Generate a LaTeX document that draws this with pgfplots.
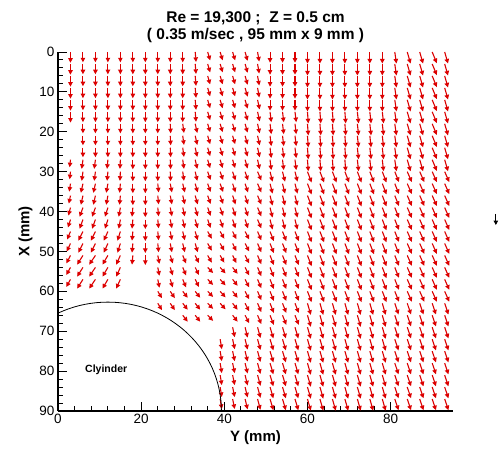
\documentclass[border=0pt]{standalone}
\usepackage{fontspec}
\setmainfont{Liberation Sans}
\usepackage{pgfplots}
\pgfplotsset{compat=1.18}
\usetikzlibrary{arrows.meta}
\definecolor{vec}{RGB}{220,0,0}
\begin{document}
\begin{tikzpicture}
\path[use as bounding box] (-58pt,-37pt) rectangle (443pt,411pt);
\begin{axis}[
 scale only axis, width=395pt, height=359pt,
 xmin=0, xmax=95, ymin=0, ymax=90, y dir=reverse,
 axis x line=bottom, axis y line=left,
 axis line style={line width=1.6pt,-},
 tick align=inside,
 xtick={0,20,40,60,80}, ytick={0,10,...,90},
 minor x tick num=4, minor y tick num=4,
 major tick length=9pt, minor tick length=5pt,
 every tick/.style={black, line width=1pt},
 tick label style={font=\fontsize{13.5}{14}\selectfont},
 /pgf/number format/assume math mode=true,
 xlabel={Y (mm)}, ylabel={X (mm)},
 label style={font=\bfseries\fontsize{15}{16}\selectfont},
 title={Re = 19,300 ;\ \ Z = 0.5 cm\\( 0.35 m/sec , 95 mm x 9 mm )},
 title style={font=\bfseries\fontsize{15.5}{17}\selectfont, align=center},
 clip=false,
]
\addplot[vec, line width=1.1pt, quiver={u=\thisrow{u}, v=\thisrow{v}}, -{Triangle[length=4.6pt,width=4.4pt]}] table[x=Y, y=X] {
Y X u v
3 0 0 2.7
3 3 0 2.7
3 6 0 2.7
3 9 0 2.7
3 12 0 2.7
3 15 0 2.7
3 27 -0.2 1.9
3 30 -0.2 1.9
3 33 -0.3 2.0
3 36 -0.4 2.0
3 39 -0.5 2.0
3 42 -0.6 2.0
3 45 -0.8 2.0
3 48 -0.9 2.0
3 51 -1.0 2.0
3 54 -1.0 1.9
3 57 -1.0 1.9
6 0 0 2.6
6 3 0 2.6
6 6 0 2.6
6 9 0 2.6
6 12 0 2.6
6 15 0 2.6
6 18 0 2.4
6 21 0 2.4
6 24 0 2.4
6 27 -0.3 2.3
6 30 -0.3 2.3
6 33 -0.5 2.3
6 36 -0.5 2.3
6 39 -0.8 2.3
6 42 -0.8 2.3
6 45 -1.1 2.3
6 48 -1.1 2.3
6 51 -1.4 2.3
6 54 -1.4 2.3
6 57 -1.4 2.3
9 0 0 2.6
9 3 0 2.6
9 6 0 2.6
9 9 0 2.6
9 12 0 2.6
9 15 0 2.6
9 18 0 2.4
9 21 0 2.4
9 24 0 2.4
9 27 -0.3 2.3
9 30 -0.3 2.3
9 33 -0.5 2.3
9 36 -0.5 2.3
9 39 -0.8 2.3
9 42 -0.8 2.3
9 45 -1.1 2.3
9 48 -1.1 2.3
9 51 -1.5 2.3
9 54 -1.5 2.3
9 57 -1.5 2.3
12 0 0 2.6
12 3 0 2.6
12 6 0 2.6
12 9 0 2.6
12 12 0 2.6
12 15 0 2.6
12 18 0 2.4
12 21 0 2.4
12 24 0 2.4
12 27 -0.2 2.3
12 30 -0.2 2.3
12 33 -0.4 2.3
12 36 -0.4 2.3
12 39 -0.7 2.3
12 42 -0.7 2.3
12 45 -1.0 2.3
12 48 -1.0 2.3
12 51 -1.3 2.3
12 54 -1.3 2.3
12 57 -1.3 2.3
15 0 0 2.6
15 3 0 2.6
15 6 0 2.6
15 9 0 2.6
15 12 0 2.6
15 15 0 2.6
15 18 0 2.4
15 21 0 2.4
15 24 0 2.4
15 27 -0.1 2.3
15 30 -0.1 2.3
15 33 -0.2 2.3
15 36 -0.2 2.3
15 39 -0.4 2.3
15 42 -0.4 2.3
15 45 -0.7 2.3
15 48 -0.7 2.3
15 51 -1.0 2.3
15 54 -1.0 2.3
15 57 -1.0 2.3
18 0 0 2.6
18 3 0 2.6
18 6 0 2.6
18 9 0 2.6
18 12 0 2.6
18 15 0 2.6
18 18 0 2.4
18 21 0 2.4
18 24 0 2.4
18 27 0 2.4
18 30 0 2.4
18 33 0 2.4
18 36 0 2.4
18 39 -0.2 2.3
18 42 -0.2 2.3
18 45 -0.2 2.3
18 48 -0.2 2.3
18 51 -0.2 2.3
21 0 0 2.6
21 3 0 2.6
21 6 0 2.6
21 9 0 2.6
21 12 0 2.6
21 15 0 2.6
21 18 0 2.4
21 21 0 2.4
21 24 0 2.4
21 27 0 2.4
21 30 0 2.4
21 33 0 2.4
21 36 0 2.4
21 39 0 2.4
21 42 0 2.4
21 45 0 2.4
21 48 0 2.4
21 51 0 2.4
24 0 0 2.6
24 3 0 2.6
24 6 0 2.6
24 9 0 2.6
24 12 0 2.6
24 15 0 2.6
24 18 0 2.4
24 21 0 2.4
24 24 0 2.4
24 27 0 2.4
24 30 0 2.4
24 33 0.2 2.2
24 36 0.2 2.2
24 39 0.2 2.2
24 42 0.2 2.2
24 45 0.2 2.2
24 48 0.2 2.2
24 51 0.4 2.1
24 54 0.4 2.1
24 57 0.4 2.1
24 60 1.0 1.7
24 63 1.0 1.7
27 0 0 2.6
27 3 0 2.6
27 6 0 2.6
27 9 0 2.6
27 12 0 2.6
27 15 0 2.6
27 18 0.1 2.4
27 21 0.1 2.4
27 24 0.1 2.4
27 27 0.1 2.4
27 30 0.1 2.4
27 33 0.4 2.2
27 36 0.4 2.2
27 39 0.4 2.2
27 42 0.4 2.2
27 45 0.4 2.2
27 48 0.4 2.2
27 51 0.6 2.0
27 54 0.6 2.0
27 57 0.6 2.0
27 60 1.1 1.7
27 63 1.1 1.7
30 0 0 2.6
30 3 0 2.6
30 6 0 2.6
30 9 0 2.6
30 12 0 2.6
30 15 0 2.6
30 18 0.3 2.3
30 21 0.3 2.3
30 24 0.3 2.3
30 27 0.3 2.3
30 30 0.3 2.3
30 33 0.5 2.2
30 36 0.5 2.2
30 39 0.5 2.2
30 42 0.5 2.2
30 45 0.5 2.2
30 48 0.5 2.2
30 51 0.8 2.0
30 54 0.8 2.0
30 57 0.8 2.0
30 60 1.2 1.6
30 63 1.2 1.6
30 66 1.2 1.6
33 0 0.2 2.5
33 3 0.2 2.5
33 6 0.2 2.5
33 9 0.2 2.5
33 12 0.2 2.5
33 15 0.2 2.5
33 18 0.5 2.3
33 21 0.5 2.3
33 24 0.5 2.3
33 27 0.5 2.3
33 30 0.5 2.3
33 33 0.6 2.2
33 36 0.6 2.2
33 39 0.6 2.2
33 42 0.6 2.2
33 45 0.6 2.2
33 48 0.6 2.2
33 51 0.9 1.9
33 54 0.9 1.9
33 57 0.9 1.9
33 60 1.2 1.6
33 63 1.2 1.6
33 66 1.2 1.6
36 0 0.6 2.1
36 3 0.6 2.1
36 6 0.6 2.1
36 9 0.6 2.1
36 12 0.6 2.1
36 15 0.6 2.1
36 18 0.6 2.1
36 21 0.6 2.1
36 24 0.6 2.1
36 27 0.6 2.1
36 30 0.7 2.1
36 33 0.7 2.1
36 36 0.7 2.1
36 39 0.7 2.1
36 42 0.7 2.1
36 45 1.0 1.8
36 48 1.0 1.8
36 51 1.0 1.8
36 54 1.3 1.4
36 57 1.3 1.4
36 60 1.3 1.4
36 63 1.3 1.4
36 66 1.3 1.4
39 0 0.6 2.1
39 3 0.6 2.1
39 6 0.6 2.1
39 9 0.6 2.1
39 12 0.6 2.1
39 15 0.6 2.1
39 18 0.6 2.1
39 21 0.6 2.1
39 24 0.6 2.1
39 27 0.6 2.1
39 30 0.7 2.1
39 33 0.7 2.1
39 36 0.7 2.1
39 39 0.7 2.1
39 42 0.7 2.1
39 45 1.0 1.8
39 48 1.0 1.8
39 51 1.0 1.8
39 54 1.3 1.5
39 57 1.3 1.5
39 60 1.3 1.5
39 63 1.3 1.5
39 72 0.4 2.5
39 75 0.4 2.5
39 78 0.4 2.5
39 81 0.4 2.5
39 84 0.4 2.5
39 87 0.4 2.5
42 0 0.6 2.1
42 3 0.6 2.1
42 6 0.6 2.1
42 9 0.6 2.1
42 12 0.6 2.1
42 15 0.6 2.1
42 18 0.6 2.1
42 21 0.6 2.1
42 24 0.6 2.1
42 27 0.6 2.1
42 30 0.7 2.2
42 33 0.7 2.2
42 36 0.7 2.2
42 39 0.7 2.2
42 42 0.7 2.2
42 45 0.9 1.9
42 48 0.9 1.9
42 51 0.9 1.9
42 54 1.2 1.6
42 57 1.2 1.6
42 60 1.2 1.6
42 63 1.2 1.6
42 66 1.2 1.6
42 69 0.5 2.5
42 72 0.5 2.5
42 75 0.5 2.5
42 78 0.5 2.5
42 81 0.5 2.5
42 84 0.5 2.5
42 87 0.5 2.5
45 0 0.6 2.2
45 3 0.6 2.2
45 6 0.6 2.2
45 9 0.6 2.2
45 12 0.6 2.2
45 15 0.6 2.2
45 18 0.6 2.2
45 21 0.6 2.2
45 24 0.6 2.2
45 27 0.6 2.2
45 30 0.7 2.2
45 33 0.7 2.2
45 36 0.7 2.2
45 39 0.7 2.2
45 42 0.7 2.2
45 45 1.0 2.0
45 48 1.0 2.0
45 51 1.0 2.0
45 54 1.0 2.0
45 57 1.0 2.0
45 60 1.0 2.0
45 63 1.0 2.0
45 66 1.0 2.0
45 69 0.6 2.6
45 72 0.6 2.6
45 75 0.6 2.6
45 78 0.6 2.6
45 81 0.6 2.6
45 84 0.6 2.6
45 87 0.6 2.6
48 0 0.4 2.4
48 3 0.4 2.4
48 6 0.4 2.4
48 9 0.4 2.4
48 12 0.5 2.4
48 15 0.5 2.4
48 18 0.5 2.4
48 21 0.5 2.4
48 24 0.5 2.4
48 27 0.5 2.4
48 30 0.9 2.2
48 33 0.9 2.2
48 36 0.9 2.2
48 39 0.9 2.2
48 42 0.9 2.2
48 45 0.9 2.2
48 48 0.9 2.2
48 51 0.9 2.2
48 54 0.9 2.2
48 57 0.9 2.2
48 60 0.9 2.2
48 63 0.9 2.2
48 66 0.9 2.2
48 69 0.7 2.7
48 72 0.7 2.7
48 75 0.7 2.7
48 78 0.7 2.7
48 81 0.7 2.7
48 84 0.7 2.7
48 87 0.7 2.7
51 0 0 2.7
51 3 0 2.7
51 6 0 2.7
51 9 0 2.7
51 12 0 2.7
51 15 0.3 2.6
51 18 0.3 2.6
51 21 0.3 2.6
51 24 0.3 2.6
51 27 0.3 2.6
51 30 0.6 2.5
51 33 0.6 2.5
51 36 0.6 2.5
51 39 0.6 2.5
51 42 0.6 2.5
51 45 0.9 2.4
51 48 0.9 2.4
51 51 0.9 2.4
51 54 0.9 2.4
51 57 0.9 2.4
51 60 0.9 2.4
51 63 0.9 2.4
51 66 0.9 2.4
51 69 0.8 2.8
51 72 0.8 2.8
51 75 0.8 2.8
51 78 0.8 2.8
51 81 0.8 2.8
51 84 0.8 2.8
51 87 0.8 2.8
54 0 0 2.7
54 3 0 2.7
54 6 0 2.7
54 9 0 2.7
54 12 0 2.7
54 15 0.3 2.6
54 18 0.3 2.6
54 21 0.3 2.6
54 24 0.3 2.6
54 27 0.3 2.6
54 30 0.6 2.5
54 33 0.6 2.5
54 36 0.6 2.5
54 39 0.6 2.5
54 42 0.6 2.5
54 45 0.9 2.4
54 48 0.9 2.4
54 51 0.9 2.4
54 54 0.9 2.4
54 57 0.9 2.4
54 60 0.9 2.4
54 63 0.9 2.4
54 66 0.9 2.4
54 69 0.8 2.8
54 72 0.8 2.8
54 75 0.8 2.8
54 78 0.8 2.8
54 81 0.8 2.8
54 84 0.8 2.8
54 87 0.8 2.8
57 0 0 2.7
57 3 0 2.7
57 6 0 2.7
57 9 0 2.7
57 12 0 2.7
57 15 0.3 2.6
57 18 0.3 2.6
57 21 0.3 2.6
57 24 0.3 2.6
57 27 0.3 2.6
57 30 0.6 2.5
57 33 0.6 2.5
57 36 0.6 2.5
57 39 0.6 2.5
57 42 0.6 2.5
57 45 0.9 2.4
57 48 0.9 2.4
57 51 0.9 2.4
57 54 0.9 2.4
57 57 0.9 2.4
57 60 0.9 2.4
57 63 0.9 2.4
57 66 0.9 2.4
57 69 0.8 2.8
57 72 0.8 2.8
57 75 0.8 2.8
57 78 0.8 2.8
57 81 0.8 2.8
57 84 0.8 2.8
57 87 0.8 2.8
60 0 0 2.9
60 3 0 2.9
60 6 0 2.9
60 9 0 2.9
60 12 0 2.9
60 15 0.2 2.9
60 18 0.2 2.9
60 21 0.2 2.9
60 24 0.2 2.9
60 27 0.2 2.9
60 30 1.0 2.7
60 33 1.0 2.7
60 36 1.0 2.7
60 39 1.0 2.7
60 42 1.0 2.7
60 45 1.0 2.7
60 48 1.0 2.7
60 51 1.0 2.7
60 54 1.0 2.7
60 57 1.0 2.7
60 60 1.0 2.7
60 63 0.8 2.9
60 66 0.8 2.9
60 69 0.8 2.9
60 72 0.8 2.9
60 75 0.8 2.9
60 78 0.8 2.9
60 81 0.8 2.9
60 84 0.8 2.9
60 87 0.8 2.9
63 0 0 2.9
63 3 0 2.9
63 6 0 2.9
63 9 0 2.9
63 12 0 2.9
63 15 0.2 2.9
63 18 0.2 2.9
63 21 0.2 2.9
63 24 0.2 2.9
63 27 0.2 2.9
63 30 1.0 2.7
63 33 1.0 2.7
63 36 1.0 2.7
63 39 1.0 2.7
63 42 1.0 2.7
63 45 1.0 2.7
63 48 1.0 2.7
63 51 1.0 2.7
63 54 1.0 2.7
63 57 1.0 2.7
63 60 1.0 2.7
63 63 0.8 2.9
63 66 0.8 2.9
63 69 0.8 2.9
63 72 0.8 2.9
63 75 0.8 2.9
63 78 0.8 2.9
63 81 0.8 2.9
63 84 0.8 2.9
63 87 0.8 2.9
66 0 0 2.9
66 3 0 2.9
66 6 0 2.9
66 9 0 2.9
66 12 0 2.9
66 15 0.2 2.9
66 18 0.2 2.9
66 21 0.2 2.9
66 24 0.2 2.9
66 27 0.2 2.9
66 30 1.0 2.7
66 33 1.0 2.7
66 36 1.0 2.7
66 39 1.0 2.7
66 42 1.0 2.7
66 45 1.0 2.7
66 48 1.0 2.7
66 51 1.0 2.7
66 54 1.0 2.7
66 57 1.0 2.7
66 60 1.0 2.7
66 63 0.8 2.9
66 66 0.8 2.9
66 69 0.8 2.9
66 72 0.8 2.9
66 75 0.8 2.9
66 78 0.8 2.9
66 81 0.8 2.9
66 84 0.8 2.9
66 87 0.8 2.9
69 0 0 2.9
69 3 0 2.9
69 6 0 2.9
69 9 0 2.9
69 12 0 2.9
69 15 0.2 2.9
69 18 0.2 2.9
69 21 0.2 2.9
69 24 0.2 2.9
69 27 0.2 2.9
69 30 1.0 2.7
69 33 1.0 2.7
69 36 1.0 2.7
69 39 1.0 2.7
69 42 1.0 2.7
69 45 1.0 2.7
69 48 1.0 2.7
69 51 1.0 2.7
69 54 1.0 2.7
69 57 1.0 2.7
69 60 1.0 2.7
69 63 0.8 2.9
69 66 0.8 2.9
69 69 0.8 2.9
69 72 0.8 2.9
69 75 0.8 2.9
69 78 0.8 2.9
69 81 0.8 2.9
69 84 0.8 2.9
69 87 0.8 2.9
72 0 0 2.9
72 3 0 2.9
72 6 0 2.9
72 9 0 2.9
72 12 0 2.9
72 15 0.3 2.9
72 18 0.3 2.9
72 21 0.3 2.9
72 24 0.3 2.9
72 27 0.3 2.9
72 30 1.0 2.7
72 33 1.0 2.7
72 36 1.0 2.7
72 39 1.0 2.7
72 42 1.0 2.7
72 45 1.0 2.7
72 48 1.0 2.7
72 51 1.0 2.7
72 54 1.0 2.7
72 57 1.0 2.7
72 60 1.0 2.7
72 63 0.8 2.9
72 66 0.8 2.9
72 69 0.8 2.9
72 72 0.8 2.9
72 75 0.8 2.9
72 78 0.8 2.9
72 81 0.8 2.9
72 84 0.8 2.9
72 87 0.8 2.9
75 0 0 2.9
75 3 0 2.9
75 6 0 2.9
75 9 0 2.9
75 12 0 2.9
75 15 0.3 2.9
75 18 0.3 2.9
75 21 0.3 2.9
75 24 0.3 2.9
75 27 0.3 2.9
75 30 1.0 2.7
75 33 1.0 2.7
75 36 1.0 2.7
75 39 1.0 2.7
75 42 1.0 2.7
75 45 1.0 2.7
75 48 1.0 2.7
75 51 1.0 2.7
75 54 1.0 2.7
75 57 1.0 2.7
75 60 1.0 2.7
75 63 0.8 2.9
75 66 0.8 2.9
75 69 0.8 2.9
75 72 0.8 2.9
75 75 0.8 2.9
75 78 0.8 2.9
75 81 0.8 2.9
75 84 0.8 2.9
75 87 0.8 2.9
78 0 0 2.9
78 3 0 2.9
78 6 0 2.9
78 9 0 2.9
78 12 0 2.9
78 15 0.3 2.9
78 18 0.3 2.9
78 21 0.3 2.9
78 24 0.3 2.9
78 27 0.3 2.9
78 30 1.0 2.7
78 33 1.0 2.7
78 36 1.0 2.7
78 39 1.0 2.7
78 42 1.0 2.7
78 45 1.0 2.7
78 48 1.0 2.7
78 51 1.0 2.7
78 54 1.0 2.7
78 57 1.0 2.7
78 60 1.0 2.7
78 63 0.8 2.9
78 66 0.8 2.9
78 69 0.8 2.9
78 72 0.8 2.9
78 75 0.8 2.9
78 78 0.8 2.9
78 81 0.8 2.9
78 84 0.8 2.9
78 87 0.8 2.9
81 0 0.4 2.9
81 3 0.4 2.9
81 6 0.4 2.9
81 9 0.4 2.9
81 12 0.4 2.9
81 15 0.4 2.9
81 18 0.4 2.9
81 21 0.4 2.9
81 24 0.4 2.9
81 27 0.4 2.9
81 30 1.0 2.6
81 33 1.0 2.6
81 36 1.0 2.6
81 39 1.0 2.6
81 42 1.0 2.6
81 45 1.0 2.6
81 48 1.0 2.6
81 51 1.0 2.6
81 54 1.0 2.6
81 57 1.0 2.6
81 60 1.0 2.6
81 63 0.9 2.8
81 66 0.9 2.8
81 69 0.9 2.8
81 72 0.9 2.8
81 75 0.9 2.8
81 78 0.9 2.8
81 81 0.9 2.8
81 84 0.9 2.8
81 87 0.9 2.8
84 0 0.8 2.9
84 3 0.8 2.9
84 6 0.8 2.9
84 9 0.8 2.9
84 12 0.8 2.9
84 15 0.8 2.9
84 18 0.8 2.9
84 21 0.8 2.9
84 24 0.8 2.9
84 27 0.8 2.9
84 30 1.1 2.6
84 33 1.1 2.6
84 36 1.1 2.6
84 39 1.1 2.6
84 42 1.1 2.6
84 45 1.1 2.6
84 48 1.1 2.6
84 51 1.1 2.6
84 54 1.1 2.6
84 57 1.1 2.6
84 60 1.1 2.6
84 63 0.9 2.8
84 66 0.9 2.8
84 69 0.9 2.8
84 72 0.9 2.8
84 75 0.9 2.8
84 78 0.9 2.8
84 81 0.9 2.8
84 84 0.9 2.8
84 87 0.9 2.8
87 0 0.8 2.9
87 3 0.8 2.9
87 6 0.8 2.9
87 9 0.8 2.9
87 12 0.8 2.9
87 15 0.8 2.9
87 18 0.8 2.9
87 21 0.8 2.9
87 24 0.8 2.9
87 27 0.8 2.9
87 30 1.1 2.6
87 33 1.1 2.6
87 36 1.1 2.6
87 39 1.1 2.6
87 42 1.1 2.6
87 45 1.1 2.6
87 48 1.1 2.6
87 51 1.1 2.6
87 54 1.1 2.6
87 57 1.1 2.6
87 60 1.1 2.6
87 63 0.9 2.8
87 66 0.9 2.8
87 69 0.9 2.8
87 72 0.9 2.8
87 75 0.9 2.8
87 78 0.9 2.8
87 81 0.9 2.8
87 84 0.9 2.8
87 87 0.9 2.8
90 0 1.1 2.8
90 3 1.1 2.8
90 6 1.1 2.8
90 9 1.1 2.8
90 12 1.1 2.8
90 15 1.1 2.8
90 18 1.1 2.8
90 21 1.1 2.8
90 24 1.1 2.8
90 27 1.1 2.8
90 30 1.1 2.6
90 33 1.1 2.6
90 36 1.1 2.6
90 39 1.1 2.6
90 42 1.1 2.6
90 45 1.1 2.6
90 48 1.1 2.6
90 51 1.1 2.6
90 54 1.1 2.6
90 57 1.1 2.6
90 60 1.1 2.6
90 63 0.9 2.8
90 66 0.9 2.8
90 69 0.9 2.8
90 72 0.9 2.8
90 75 0.9 2.8
90 78 0.9 2.8
90 81 0.9 2.8
90 84 0.9 2.8
90 87 0.9 2.8
93 0 0.8 2.9
93 3 0.8 2.9
93 6 0.8 2.9
93 9 0.8 2.9
93 12 0.8 2.9
93 15 0.8 2.9
93 18 0.8 2.9
93 21 0.8 2.9
93 24 0.8 2.9
93 27 0.8 2.9
93 30 1.1 2.6
93 33 1.1 2.6
93 36 1.1 2.6
93 39 1.1 2.6
93 42 1.1 2.6
93 45 1.1 2.6
93 48 1.1 2.6
93 51 1.1 2.6
93 54 1.1 2.6
93 57 1.1 2.6
93 60 1.1 2.6
93 63 0.9 2.8
93 66 0.9 2.8
93 69 0.9 2.8
93 72 0.9 2.8
93 75 0.9 2.8
93 78 0.9 2.8
93 81 0.9 2.8
93 84 0.9 2.8
93 87 0.9 2.8
};
\addplot[black, line width=1pt, quiver={u=\thisrow{u}, v=\thisrow{v}}, -{Triangle[length=4.6pt,width=4.4pt]}] table[x=Y, y=X] {
Y X u v
105.3 40.6 0 2.8
};
\begin{scope}
\clip (axis cs:0,0) rectangle (axis cs:95,90);
\draw[black, line width=0.8pt] (axis cs:12,90) ellipse [x radius=27.3, y radius=27.3];
\end{scope}
\node[font=\bfseries\fontsize{10.5}{12}\selectfont] at (axis cs:11.6,79.7) {Clyinder};
\end{axis}
\end{tikzpicture}
\end{document}
